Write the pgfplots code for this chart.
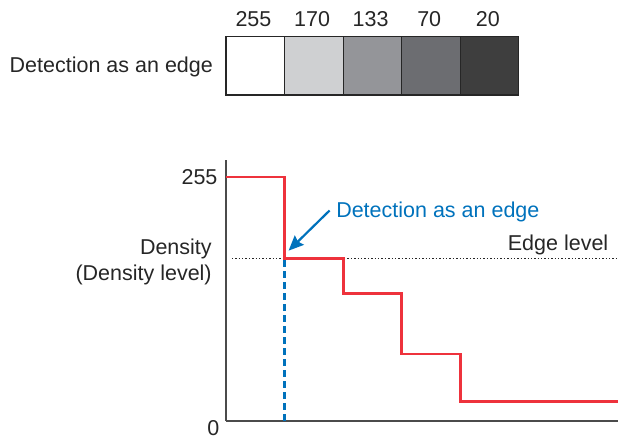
\documentclass[border=0pt]{standalone}
\usepackage{pgfplots}
\pgfplotsset{compat=1.18}
\usepackage{fontspec}
\setmainfont{Liberation Sans}
\usetikzlibrary{arrows.meta}

\definecolor{edgered}{RGB}{238,50,60}
\definecolor{edgeblue}{RGB}{0,114,188}
\definecolor{g170}{RGB}{207,208,210}
\definecolor{g133}{RGB}{148,149,153}
\definecolor{g70}{RGB}{108,109,113}
\definecolor{g20}{RGB}{62,62,62}
\definecolor{axisgray}{RGB}{75,75,75}

\begin{document}
\begin{tikzpicture}[font=\fontsize{21.5bp}{25.5bp}\selectfont]
\begin{axis}[
    x=58.6bp, y=0.957bp,
    xmin=0, xmax=6.69,
    ymin=0, ymax=273,
    axis x line*=bottom,
    axis y line*=left,
    axis line style={-, draw=axisgray, line width=1.3bp},
    xtick=\empty,
    ytick={255},
    extra y ticks={0},
    extra y tick style={yticklabel style={xshift=2bp, yshift=-7bp}},
    major tick length=0pt,
    yticklabel style={xshift=-5bp, text=black!85},
    tick label style={font=\fontsize{21.5bp}{25.5bp}\selectfont},
    /pgf/number format/assume math mode=true,
    clip=false,
]
% greyscale strip
\addplot[draw=black!85, line width=1.2bp, fill=white] coordinates {(0,340.6) (1,340.6) (1,402) (0,402)} -- cycle;
\addplot[draw=black!85, line width=1.2bp, fill=g170] coordinates {(1,340.6) (2,340.6) (2,402) (1,402)} -- cycle;
\addplot[draw=black!85, line width=1.2bp, fill=g133] coordinates {(2,340.6) (3,340.6) (3,402) (2,402)} -- cycle;
\addplot[draw=black!85, line width=1.2bp, fill=g70] coordinates {(3,340.6) (4,340.6) (4,402) (3,402)} -- cycle;
\addplot[draw=black!85, line width=1.2bp, fill=g20] coordinates {(4,340.6) (5,340.6) (5,402) (4,402)} -- cycle;
\node[text=black!85] at (axis cs:0.47,420) {255};
\node[text=black!85] at (axis cs:1.47,420) {170};
\node[text=black!85] at (axis cs:2.47,420) {133};
\node[text=black!85] at (axis cs:3.47,420) {70};
\node[text=black!85] at (axis cs:4.47,420) {20};
\node[anchor=east, text=black!85, inner sep=0pt] at (axis cs:-0.22,370) {Detection as an edge};

% edge level
\addplot[black!85, line width=1.4bp, dash pattern=on 1.4bp off 2bp] coordinates {(0.1,170) (6.69,170)};
\node[anchor=east, text=black!85, inner sep=0pt] at (axis cs:6.53,184) {Edge level};

% detection position
\addplot[edgeblue, line width=2.4bp, dash pattern=on 7bp off 4bp] coordinates {(1,0) (1,170)};

% density profile
\addplot[const plot, edgered, line width=2.8bp] coordinates {(0,255) (1,170) (2,133) (3,70) (4,20) (6.69,20)};

\draw[-{Stealth[length=15bp, width=13bp, inset=2bp]}, edgeblue, line width=2.2bp] (axis cs:1.77,220) -- (axis cs:1.07,178);
\node[anchor=west, text=edgeblue, inner sep=0pt] at (axis cs:1.88,218) {Detection as an edge};

\node[anchor=east, align=right, text=black!85, inner sep=0pt] at (axis cs:-0.24,166) {Density\\(Density level)};

% page frame as in the reference
\path (axis cs:-3.857,440) rectangle (axis cs:6.795,-16.7);
\end{axis}
\end{tikzpicture}
\end{document}
